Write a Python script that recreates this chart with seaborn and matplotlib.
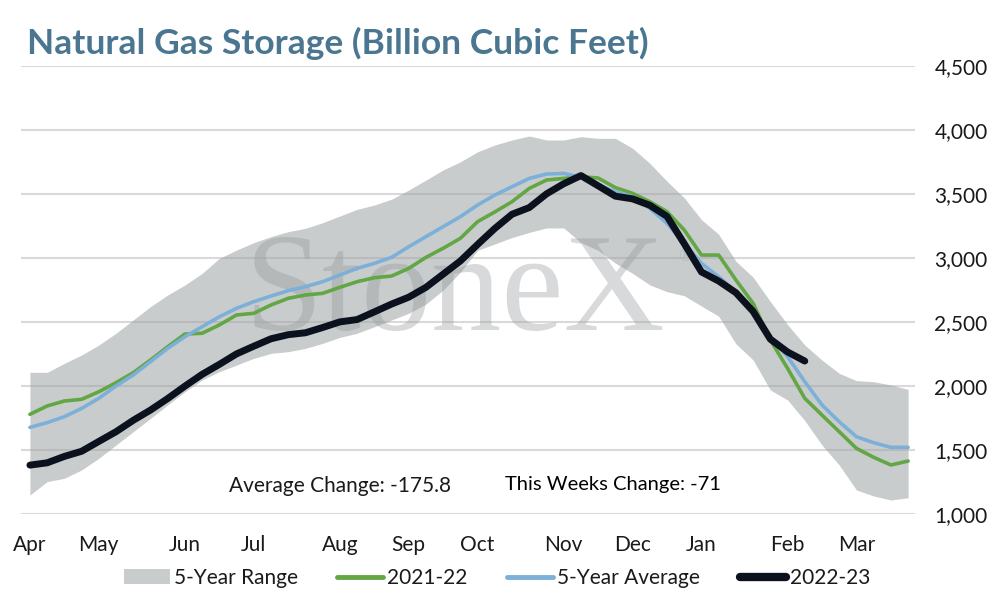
import numpy as np
import pandas as pd
import matplotlib
matplotlib.use("Agg")
import matplotlib.pyplot as plt
from matplotlib.patches import Patch
from matplotlib.lines import Line2D
import seaborn as sns

# weekly storage, Bcf (week 0 = first week of April)
range_high = [2107, 2107, 2177, 2242, 2320, 2412, 2516, 2620, 2711, 2789,
              2880, 2997, 3062, 3120, 3167, 3206, 3232, 3276, 3328, 3380,
              3414, 3459, 3531, 3609, 3688, 3752, 3830, 3883, 3922, 3953,
              3922, 3922, 3948, 3935, 3935, 3857, 3740, 3600, 3470, 3300,
              3185, 2975, 2850, 2660, 2480, 2320, 2203, 2099, 2042, 2034,
              2008, 1974]
range_low = [1148, 1253, 1279, 1344, 1435, 1539, 1643, 1747, 1852, 1955,
             2047, 2112, 2164, 2216, 2255, 2268, 2294, 2333, 2380, 2412,
             2463, 2516, 2568, 2640, 2750, 2890, 3060, 3110, 3160, 3200,
             3235, 3235, 3120, 3060, 2960, 2880, 2790, 2737, 2705, 2625,
             2545, 2330, 2203, 1969, 1891, 1730, 1539, 1383, 1188, 1141,
             1109, 1127]
s_2021_22 = [1779, 1844, 1883, 1896, 1955, 2026, 2104, 2203, 2307, 2406,
             2412, 2477, 2555, 2568, 2633, 2685, 2711, 2724, 2771, 2815,
             2846, 2859, 2919, 3005, 3076, 3154, 3284, 3360, 3440, 3544,
             3609, 3622, 3635, 3625, 3550, 3505, 3440, 3362, 3219, 3023,
             3023, 2828, 2646, 2359, 2138, 1904, 1773, 1643, 1513, 1443,
             1383, 1414]
avg_5yr = [1677, 1714, 1760, 1825, 1904, 2000, 2086, 2190, 2294, 2385,
           2463, 2541, 2607, 2659, 2703, 2745, 2776, 2815, 2867, 2919,
           2958, 3005, 3088, 3167, 3245, 3323, 3414, 3492, 3557, 3622,
           3656, 3661, 3630, 3570, 3518, 3479, 3388, 3271, 3115, 2958,
           2854, 2737, 2568, 2385, 2229, 2034, 1852, 1721, 1604, 1557,
           1521, 1521]
s_2022_23 = [1382, 1400, 1450, 1490, 1567, 1643, 1732, 1812, 1902, 1999,
             2091, 2169, 2251, 2311, 2369, 2401, 2416, 2457, 2501, 2519,
             2579, 2640, 2694, 2771, 2874, 2977, 3106, 3231, 3342, 3394,
             3501, 3580, 3644, 3564, 3483, 3462, 3412, 3325, 3112, 2891,
             2820, 2729, 2583, 2366, 2266, 2195]

months = ["Apr", "May", "Jun", "Jul", "Aug", "Sep", "Oct", "Nov", "Dec", "Jan", "Feb", "Mar"]
month_week = [0, 4, 9, 13, 18, 22, 26, 31, 35, 39, 44, 48]
yticks = [1000, 1500, 2000, 2500, 3000, 3500, 4000, 4500]

weeks = np.arange(len(range_high))
df = pd.DataFrame({"week": weeks, "hi": range_high, "lo": range_low,
                   "y2122": s_2021_22, "avg": avg_5yr})
df2 = pd.DataFrame({"week": np.arange(len(s_2022_23)), "y2223": s_2022_23})

c_band = "#c9cccd"
c_green = "#62a744"
c_blue = "#7cb0d8"
c_black = "#0b121d"

sns.set_theme(style="white")
plt.rcParams["font.family"] = ["Lato", "DejaVu Sans"]

fig = plt.figure(figsize=(9.94, 6), dpi=100)
ax = fig.add_axes([0.0211, 0.1433, 0.8994, 0.7467])

ax.fill_between(df["week"], df["lo"], df["hi"], color=c_band, lw=0, zorder=1)

# watermark
ax.text(0.25, 0.411, "StoneX", transform=ax.transAxes, fontsize=101,
        family="Liberation Serif", color="#8f9396", alpha=0.35, zorder=2)
ax.text(0.735, 0.565, "®", transform=ax.transAxes, fontsize=13,
        family="Liberation Serif", color="#8f9396", alpha=0.35, zorder=2)

for yv in yticks:
    ax.axhline(yv, color="#a0a0a0", alpha=0.4, lw=1.5, zorder=3)

sns.lineplot(data=df, x="week", y="y2122", color=c_green, lw=2.6, ax=ax,
             zorder=4, solid_capstyle="round")
sns.lineplot(data=df, x="week", y="avg", color=c_blue, lw=2.6, ax=ax,
             zorder=5, solid_capstyle="round")
sns.lineplot(data=df2, x="week", y="y2223", color=c_black, lw=5, ax=ax,
             zorder=6, solid_capstyle="round")

ax.set_xlim(-0.52, 51.4)
ax.set_ylim(1000, 4500)
ax.set_xlabel("")
ax.set_ylabel("")
ax.set_xticks(month_week)
ax.set_xticklabels(months)
ax.set_yticks(yticks)
ax.set_yticklabels([f"{v:,}" for v in yticks])
ax.yaxis.tick_right()
ax.tick_params(axis="x", length=0, pad=15, labelsize=15, colors="#1a1a1a")
ax.tick_params(axis="y", length=0, pad=14, labelsize=15, colors="#1a1a1a")
for s in ax.spines.values():
    s.set_visible(False)
ax.grid(False)

ax.text(0.2327, 0.0625, "Average Change: -175.8", transform=ax.transAxes,
        fontsize=15, va="center", ha="left", color="#1a1a1a")
ax.text(0.5414, 0.067, "This Weeks Change: -71", transform=ax.transAxes,
        fontsize=14.5, va="center", ha="left", color="#000000")

fig.text(0.027, 0.927, "Natural Gas Storage (Billion Cubic Feet)", fontsize=25.5,
         fontweight="bold", color="#4b7691", va="center", ha="left")

handles = [Patch(facecolor=c_band, edgecolor="none"),
           Line2D([], [], color=c_green, lw=3.5, solid_capstyle="round"),
           Line2D([], [], color=c_blue, lw=3.5, solid_capstyle="round"),
           Line2D([], [], color=c_black, lw=6, solid_capstyle="round")]
labels = ["5-Year Range", "2021-22", "5-Year Average", "2022-23"]
fig.legend(handles, labels, loc="center", bbox_to_anchor=(0.5, 0.037), ncol=4,
           frameon=False, fontsize=15, handlelength=2.2, handletextpad=0.2,
           columnspacing=1.9, labelcolor="#1a1a1a")

fig.savefig("out.png", dpi=100)
